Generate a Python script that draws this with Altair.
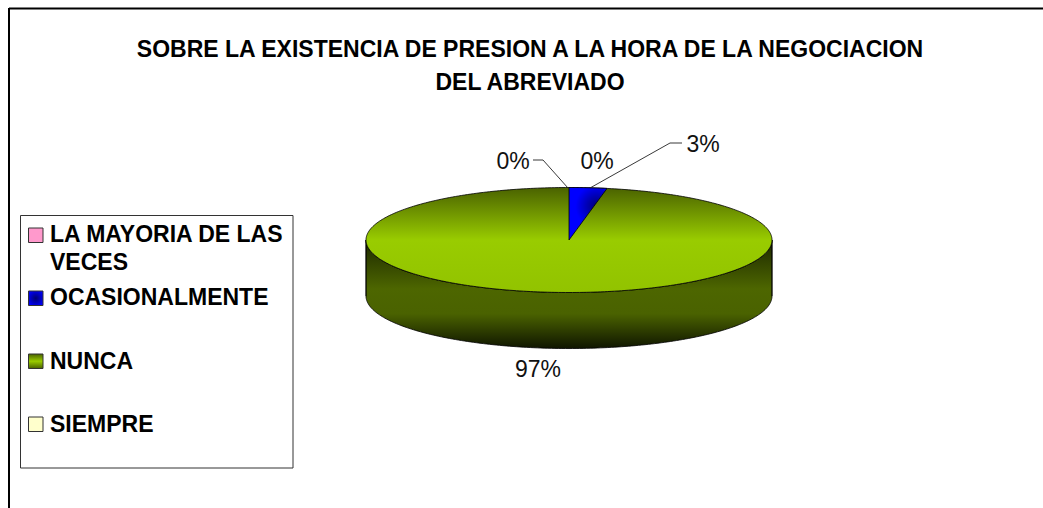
import numpy as np
import pandas as pd
import altair as alt

CANVAS_W, CANVAS_H = 1043, 508

# Survey results
categories = ["LA MAYORIA DE LAS VECES", "OCASIONALMENTE", "NUNCA", "SIEMPRE"]
shares = [0, 3, 97, 0]

title_lines = ["SOBRE LA EXISTENCIA DE PRESION A LA HORA DE LA NEGOCIACION", "DEL ABREVIADO"]
title_x = [530, 530]
title_y = [50, 83]

# Legend layout (pixels)
legend_lines = ["LA MAYORIA DE LAS", "VECES", "OCASIONALMENTE", "NUNCA", "SIEMPRE"]
legend_line_y = [235, 263, 298, 362, 425]
swatch_top = [228, 291, 354, 417]

# Pie value labels, in category order with the last zero share placed to the left
label_shares = [0, 0, 3, 97]
label_x = [513, 597, 703, 538]
label_y = [162, 162, 145, 370]

# Leader lines
leader_id = ["a", "a", "a", "b", "b", "b"]
leader_x = [533, 543, 568, 682, 670, 590]
leader_y = [160, 160, 188, 143, 143, 188]

# Unit pie mapped on to the tilted ellipse
pie_x_range = [366, 772]
pie_y_range = [292.5, 187.5]
depth_units = 1.067

pie_x = alt.Scale(domain=[-1, 1], range=pie_x_range)
pie_y = alt.Scale(domain=[-1, 1], range=pie_y_range)
px_x = alt.Scale(domain=[0, CANVAS_W], range=[0, CANVAS_W])
px_y = alt.Scale(domain=[0, CANVAS_H], range=[0, CANVAS_H])


def linear(stops):
    return alt.Gradient(
        gradient="linear", x1=0, x2=0, y1=0, y2=1,
        stops=[alt.GradientStop(offset=o, color=c) for o, c in stops],
    )


def radial(cx, cy, stops):
    return alt.Gradient(
        gradient="radial", x1=cx, y1=cy, x2=cx, y2=cy, r1=0, r2=0.6,
        stops=[alt.GradientStop(offset=o, color=c) for o, c in stops],
    )


top_fill = linear([(0, "#4a6200"), (0.5, "#99cc00"), (1, "#92c300")])
side_fill = linear([(0, "#1c2700"), (0.45, "#4d6600"), (0.68, "#4a6200"), (1, "#0f1500")])
blue_fill = radial(0.68, 0.36, [(0, "#000070"), (0.7, "#0000ff"), (1, "#0000ff")])

xs = np.cos(np.radians(np.arange(180, -0.5, -1.0)))
rim = np.sqrt(np.clip(1 - xs**2, 0, 1))
ellipse = pd.DataFrame({"x": xs, "upper": rim, "lower": -rim, "bottom": -rim - depth_units})

side = alt.Chart(ellipse).mark_area(
    orient="vertical", fill=side_fill, stroke="#000000", strokeWidth=0.8
).encode(
    x=alt.X("x:Q", scale=pie_x, axis=None),
    y=alt.Y("lower:Q", scale=pie_y, axis=None),
    y2="bottom:Q",
)
# Straight edges of the drum
side_wall = alt.Chart(ellipse.assign(upper=0.0)).transform_filter("abs(datum.x) === 1").mark_rule(
    color="#000000", strokeWidth=0.8
).encode(
    x=alt.X("x:Q", scale=pie_x, axis=None),
    y=alt.Y("upper:Q", scale=pie_y, axis=None),
    y2=alt.Y2("bottom:Q"),
)
top = alt.Chart(ellipse).mark_area(
    orient="vertical", fill=top_fill, stroke="#000000", strokeWidth=0.8
).encode(
    x=alt.X("x:Q", scale=pie_x, axis=None),
    y=alt.Y("upper:Q", scale=pie_y, axis=None),
    y2="lower:Q",
)

# Slice for the 3% share, starting at twelve o'clock and running clockwise
angle = 2 * np.pi * shares[1] / sum(shares)
wx = np.linspace(0, np.sin(angle), 30)
wedge = pd.DataFrame({
    "x": wx,
    "outer": np.sqrt(1 - wx**2),
    "inner": wx * np.cos(angle) / np.sin(angle),
})
slice_mark = alt.Chart(wedge).mark_area(
    orient="vertical", fill=blue_fill, stroke="#000000", strokeWidth=0.8
).encode(
    x=alt.X("x:Q", scale=pie_x, axis=None),
    y=alt.Y("outer:Q", scale=pie_y, axis=None),
    y2="inner:Q",
)

# Chart frame: only the top and left edges fall inside the canvas
frame_df = pd.DataFrame({"x": [9, 9], "x2": [CANVAS_W, 9], "y": [8.5, 8], "y2": [8.5, CANVAS_H]})
frame = alt.Chart(frame_df).mark_rule(color="#000000", strokeWidth=2).encode(
    x=alt.X("x:Q", scale=px_x, axis=None), x2="x2:Q",
    y=alt.Y("y:Q", scale=px_y, axis=None), y2="y2:Q",
)

title = alt.Chart(pd.DataFrame({"t": title_lines, "x": title_x, "y": title_y})).mark_text(
    font="Liberation Sans", fontWeight="bold", fontSize=23, color="#000000",
    align="center", baseline="middle",
).encode(
    x=alt.X("x:Q", scale=px_x, axis=None),
    y=alt.Y("y:Q", scale=px_y, axis=None),
    text="t:N",
)

legend_box = alt.Chart(pd.DataFrame({"x": [20.5], "x2": [293], "y": [215.5], "y2": [468]})).mark_rect(
    fill="#ffffff", stroke="#333333", strokeWidth=1
).encode(
    x=alt.X("x:Q", scale=px_x, axis=None), x2="x2:Q",
    y=alt.Y("y:Q", scale=px_y, axis=None), y2="y2:Q",
)

swatch_fills = [
    "#ff99cc",
    radial(0.5, 0.5, [(0, "#000070"), (1, "#0000ff")]),
    linear([(0, "#4a6200"), (0.5, "#99cc00"), (1, "#4a6200")]),
    "#ffffcc",
]
swatches = [
    alt.Chart(pd.DataFrame({"x": [28.5], "x2": [43], "y": [t], "y2": [t + 14.5]})).mark_rect(
        fill=f, stroke="#333333", strokeWidth=1
    ).encode(
        x=alt.X("x:Q", scale=px_x, axis=None), x2="x2:Q",
        y=alt.Y("y:Q", scale=px_y, axis=None), y2="y2:Q",
    )
    for t, f in zip(swatch_top, swatch_fills)
]

legend_text = alt.Chart(pd.DataFrame({"t": legend_lines, "y": legend_line_y})).mark_text(
    font="Liberation Sans", fontWeight="bold", fontSize=23, color="#000000",
    align="left", baseline="middle",
).encode(
    x=alt.value(50),
    y=alt.Y("y:Q", scale=px_y, axis=None),
    text="t:N",
)

leaders = alt.Chart(pd.DataFrame({"id": leader_id, "x": leader_x, "y": leader_y, "o": range(6)})).mark_line(
    color="#222222", strokeWidth=0.9
).encode(
    x=alt.X("x:Q", scale=px_x, axis=None),
    y=alt.Y("y:Q", scale=px_y, axis=None),
    detail="id:N",
    order="o:Q",
)

value_labels = alt.Chart(pd.DataFrame({
    "t": [f"{v}%" for v in label_shares], "x": label_x, "y": label_y,
})).mark_text(
    font="Liberation Sans", fontSize=23, color="#111111", align="center", baseline="middle",
).encode(
    x=alt.X("x:Q", scale=px_x, axis=None),
    y=alt.Y("y:Q", scale=px_y, axis=None),
    text="t:N",
)

chart = alt.layer(
    frame, title, legend_box, *swatches, legend_text,
    side, side_wall, top, slice_mark, leaders, value_labels,
).resolve_scale(x="independent", y="independent").properties(
    width=CANVAS_W, height=CANVAS_H, padding=0, autosize=alt.AutoSizeParams(type="none"),
    background="#ffffff",
).configure_view(stroke=None)

chart.save("out.html", embed_options={"renderer": "svg", "actions": False})
